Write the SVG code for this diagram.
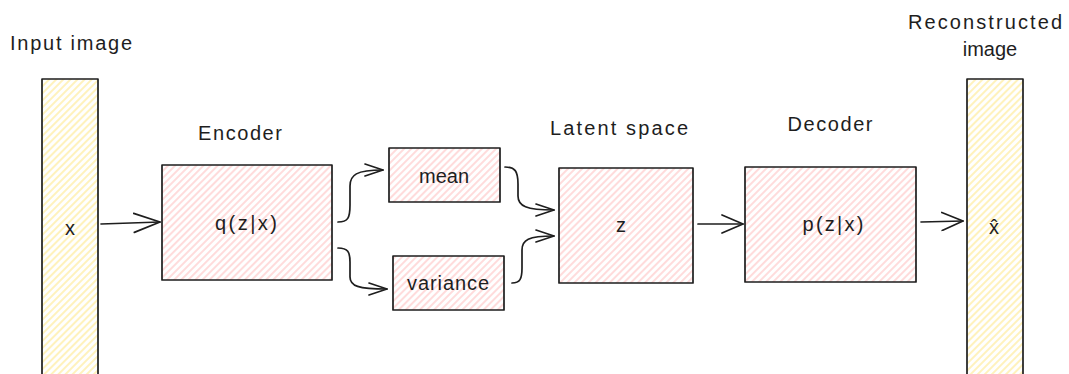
<svg xmlns="http://www.w3.org/2000/svg" width="1069" height="374" viewBox="0 0 1069 374">
<style>
.box{stroke:#1e1e1e;stroke-width:1.7;stroke-linejoin:round}
.pink{fill:url(#hPink)}
.yellow{fill:url(#hYellow)}
.lbl{font-family:"Liberation Sans","DejaVu Sans",sans-serif;font-size:20px;fill:#1e1e1e;text-anchor:middle;dominant-baseline:central}
.conn{fill:none;stroke:#1e1e1e;stroke-width:1.7;stroke-linecap:round;stroke-linejoin:round}
</style>
<defs>
<pattern id="hPink" patternUnits="userSpaceOnUse" width="5" height="10" patternTransform="rotate(45)">
<rect width="5" height="10" fill="#ffffff"/>
<line x1="1" y1="0" x2="1" y2="10" stroke="#ffc9c9" stroke-width="1.3"/>
</pattern>
<pattern id="hYellow" patternUnits="userSpaceOnUse" width="5" height="10" patternTransform="rotate(45)">
<rect width="5" height="10" fill="#ffffff"/>
<line x1="1" y1="0" x2="1" y2="10" stroke="#ffec99" stroke-width="1.3"/>
</pattern>
<marker id="aL" markerUnits="userSpaceOnUse" markerWidth="30" markerHeight="22" refX="27" refY="10.5" orient="auto">
<path d="M1,1 L27,10.5 L1,20" fill="none" stroke="#1e1e1e" stroke-width="1.7" stroke-linecap="round" stroke-linejoin="round"/>
</marker>
<marker id="aM" markerUnits="userSpaceOnUse" markerWidth="26" markerHeight="20" refX="22" refY="10" orient="auto">
<path d="M1,1 L22,10 L1,19" fill="none" stroke="#1e1e1e" stroke-width="1.7" stroke-linecap="round" stroke-linejoin="round"/>
</marker>
<marker id="aS" markerUnits="userSpaceOnUse" markerWidth="22" markerHeight="14" refX="19" refY="7" orient="auto">
<path d="M1,1 L19,7 L1,13" fill="none" stroke="#1e1e1e" stroke-width="1.7" stroke-linecap="round" stroke-linejoin="round"/>
</marker>
</defs>
<rect width="1069" height="374" fill="#ffffff"/>

<g id="input">
<rect class="box yellow" x="42" y="79" width="56" height="305"/>
<text class="lbl" x="70" y="228">x</text>
<text class="lbl" x="71" y="43" textLength="122" lengthAdjust="spacing">Input image</text>
</g>

<g id="encoder">
<rect class="box pink" x="162" y="165" width="170" height="115"/>
<text class="lbl" x="246" y="223" textLength="62" lengthAdjust="spacing">q(z|x)</text>
<text class="lbl" x="240" y="133" textLength="84" lengthAdjust="spacing">Encoder</text>
</g>

<g id="mean">
<rect class="box pink" x="389" y="148" width="111" height="54"/>
<text class="lbl" x="444" y="176">mean</text>
</g>

<g id="variance">
<rect class="box pink" x="393" y="256" width="111" height="54"/>
<text class="lbl" x="448" y="283" textLength="82" lengthAdjust="spacing">variance</text>
</g>

<g id="latent">
<rect class="box pink" x="559" y="168" width="134" height="115"/>
<text class="lbl" x="621" y="225">z</text>
<text class="lbl" x="619" y="128" textLength="138" lengthAdjust="spacing">Latent space</text>
</g>

<g id="decoder">
<rect class="box pink" x="745" y="167" width="171" height="115"/>
<text class="lbl" x="833" y="224" textLength="61" lengthAdjust="spacing">p(z|x)</text>
<text class="lbl" x="830" y="124" textLength="85" lengthAdjust="spacing">Decoder</text>
</g>

<g id="reconstructed">
<rect class="box yellow" x="967" y="79" width="56" height="305"/>
<text class="lbl" x="994" y="227">x̂</text>
<text class="lbl" x="985" y="22" textLength="154" lengthAdjust="spacing">Reconstructed</text>
<text class="lbl" x="990" y="49">image</text>
</g>

<g id="connectors">
<path class="conn" d="M101,224 L160,222" marker-end="url(#aL)"/>
<path class="conn" d="M338,222 C348,222 350,218 350,205 L350,186 C350,175 356,170 383,170" marker-end="url(#aS)"/>
<path class="conn" d="M338,248 C348,248 350,252 350,262 L350,277 C350,286 358,289 387,289" marker-end="url(#aS)"/>
<path class="conn" d="M505,167 C515,167 518,171 518,184 L518,196 C518,206 526,210 554,210" marker-end="url(#aS)"/>
<path class="conn" d="M512,283 C520,283 522,279 522,268 L522,250 C522,240 528,236 554,236" marker-end="url(#aS)"/>
<path class="conn" d="M698,224 L743,224" marker-end="url(#aM)"/>
<path class="conn" d="M921,222 L963,221" marker-end="url(#aM)"/>
</g>
</svg>
